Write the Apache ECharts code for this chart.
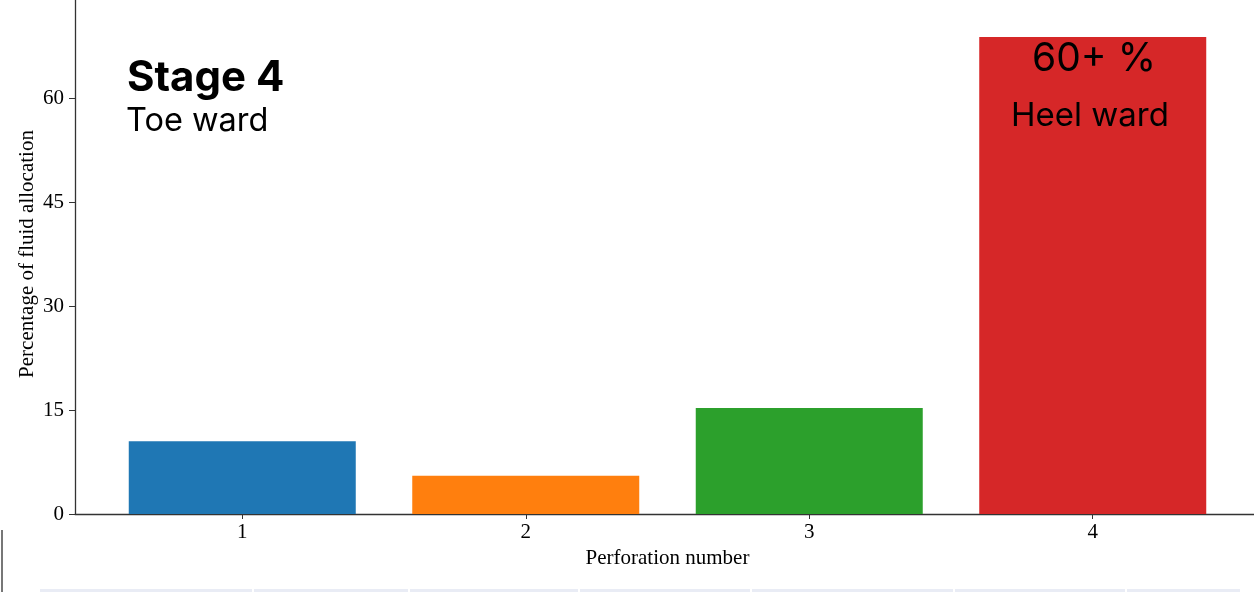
<!DOCTYPE html>
<html>
<head>
<meta charset="utf-8">
<script src="https://cdn.jsdelivr.net/npm/echarts@6/dist/echarts.min.js"></script>
<style>
html,body{margin:0;padding:0;background:#fff;}
#chart{width:1254px;height:592px;}
</style>
</head>
<body>
<div id="chart"></div>
<script>
const categories = [1, 2, 3, 4];
const values = [10.5, 5.5, 15.3, 68.8];
const colors = ['#1f77b4', '#ff7f0e', '#2ca02c', '#d62728'];
const yTicks = [0, 15, 30, 45, 60, 75];

const chart = echarts.init(document.getElementById('chart'));
const serif = '"Liberation Serif", "DejaVu Serif", serif';
const sans = 'Inter, "Open Sans", "Noto Sans", sans-serif';

chart.setOption({
  animation: false,
  grid: { left: 75, right: -6, top: -6, bottom: 78, containLabel: false, outerBoundsMode: 'none' },
  xAxis: {
    type: 'value',
    min: 0.41,
    max: 4.59,
    name: 'Perforation number',
    nameLocation: 'middle',
    nameGap: 34,
    nameMoveOverlap: false,
    nameTextStyle: { fontFamily: serif, fontSize: 21, color: '#000' },
    axisLine: { show: true, lineStyle: { color: '#333', width: 1.3 } },
    axisTick: { show: true, length: 5, lineStyle: { color: '#333' }, customValues: categories },
    axisLabel: { fontFamily: serif, fontSize: 21, color: '#000', margin: 8, customValues: categories },
    splitLine: { show: false }
  },
  yAxis: {
    type: 'value',
    min: 0,
    max: 75,
    interval: 15,
    name: 'Percentage of fluid allocation',
    nameLocation: 'middle',
    nameGap: 37,
    nameMoveOverlap: false,
    nameTextStyle: { fontFamily: serif, fontSize: 21, color: '#000' },
    axisLine: { show: true, lineStyle: { color: '#333', width: 1.3 } },
    axisTick: { show: true, length: 6, lineStyle: { color: '#333' } },
    axisLabel: { fontFamily: serif, fontSize: 21, color: '#000', margin: 11, customValues: yTicks },
    splitLine: { show: false }
  },
  series: [{
    type: 'bar',
    barWidth: 227,
    data: categories.map((c, i) => ({ value: [c, values[i]], itemStyle: { color: colors[i] } }))
  }],
  graphic: [
    { type: 'text', z: 100, style: { x: 127, y: 57, text: 'Stage 4', font: 'bold 42px ' + sans, fill: '#000' } },
    { type: 'text', z: 100, style: { x: 126, y: 105, text: 'Toe ward', font: '32.5px ' + sans, fill: '#000' } },
    { type: 'text', z: 100, style: { x: 1094, y: 40, text: '60+ %', font: '39px ' + sans, fill: '#000', textAlign: 'center' } },
    { type: 'text', z: 100, style: { x: 1090, y: 100, text: 'Heel ward', font: '33px ' + sans, fill: '#000', textAlign: 'center' } },
    { type: 'rect', shape: { x: 40, y: 589, width: 212, height: 4 }, style: { fill: '#e9ecf5' } },
    { type: 'rect', shape: { x: 254, y: 589, width: 154, height: 4 }, style: { fill: '#e9ecf5' } },
    { type: 'rect', shape: { x: 410, y: 589, width: 168, height: 4 }, style: { fill: '#e9ecf5' } },
    { type: 'rect', shape: { x: 580, y: 589, width: 170, height: 4 }, style: { fill: '#e9ecf5' } },
    { type: 'rect', shape: { x: 752, y: 589, width: 201, height: 4 }, style: { fill: '#e9ecf5' } },
    { type: 'rect', shape: { x: 955, y: 589, width: 170, height: 4 }, style: { fill: '#e9ecf5' } },
    { type: 'rect', shape: { x: 1127, y: 589, width: 113, height: 4 }, style: { fill: '#e9ecf5' } },
    { type: 'rect', shape: { x: 1, y: 530, width: 2, height: 62 }, style: { fill: '#777' } }
  ]
});
</script>
</body>
</html>
